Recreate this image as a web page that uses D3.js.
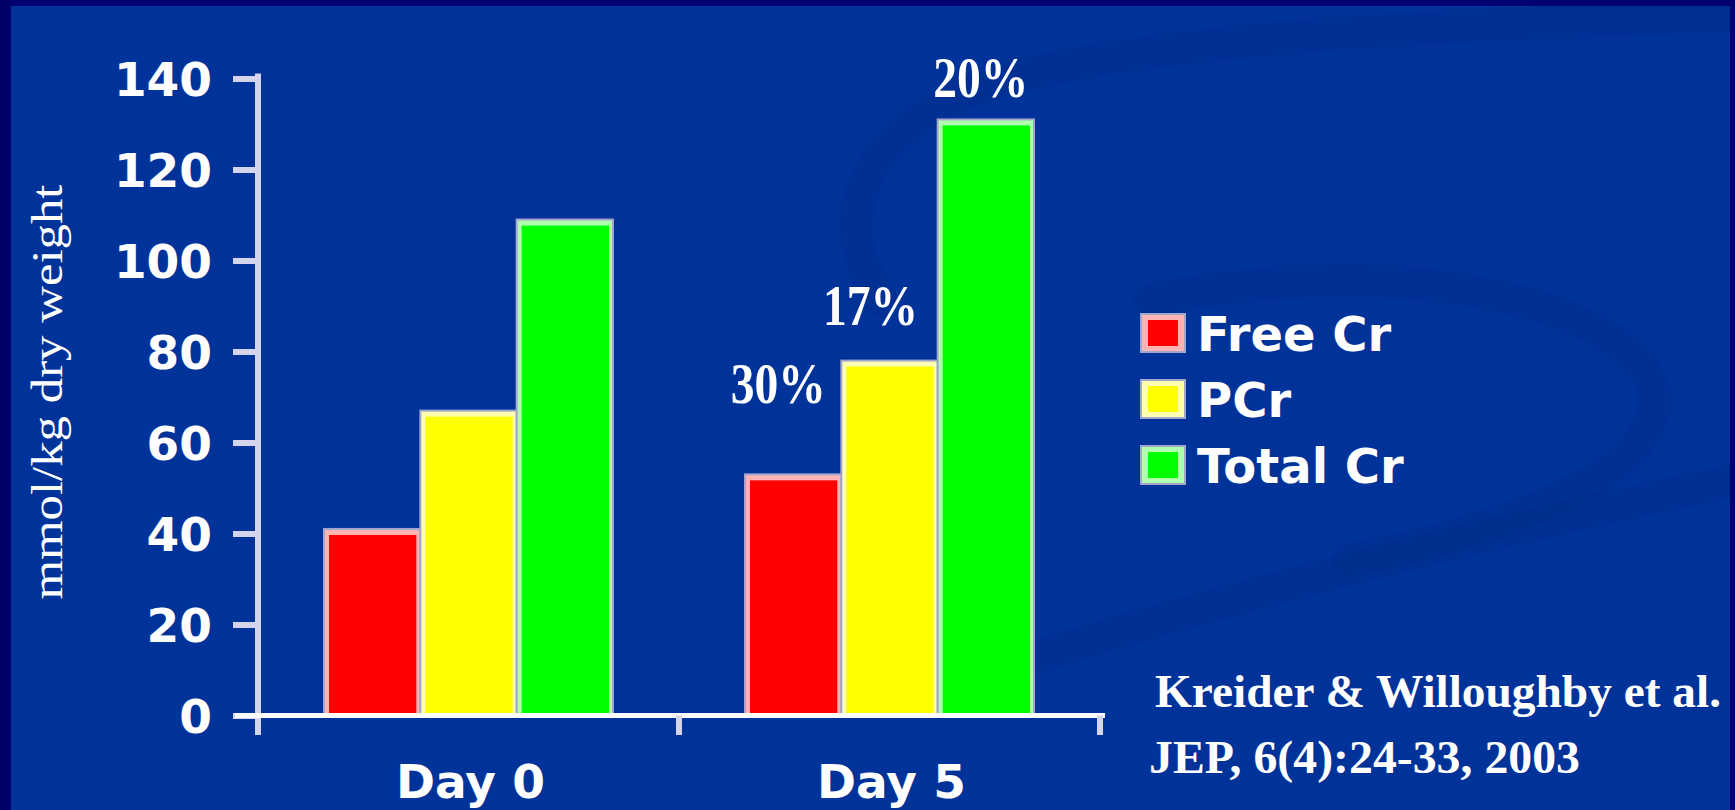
<!DOCTYPE html>
<html>
<head>
<meta charset="utf-8">
<title>Free Cr, PCr and Total Cr</title>
<script src="https://cdn.jsdelivr.net/npm/d3@7"></script>
<style>
    html, body { margin: 0; padding: 0; background: #00339a; overflow: hidden; }
    svg { display: block; }
</style>
</head>
<body>
<svg id="chart" width="1735" height="810"></svg>
<script>
// Chart data (mmol/kg dry weight)
const days = ['Day 0', 'Day 5'];
const series = ['Free Cr', 'PCr', 'Total Cr'];
const freeCr = [41, 53];
const pCr = [67, 78];
const totalCr = [109, 131];
const day5Changes = ['30%', '17%', '20%'];
const yTicks = [0, 20, 40, 60, 80, 100, 120, 140];
const yTitle = 'mmol/kg dry weight';
const citation = ['Kreider & Willoughby et al.', 'JEP, 6(4):24-33, 2003'];

const colors = ['#ff0000', '#ffff00', '#00ff00'];
const tints = ['#ffb4b4', '#ffffb0', '#b0ffb0'];

class BarChart {
    constructor(svgId) {
        this.svg = d3.select(svgId);
        this.width = 1735;
        this.height = 810;
        this.initVis();
    }

    initVis() {
        // Scales
        this.y = d3.scaleLinear().domain([0, 140]).range([715.5, 78.5]);
        this.x0 = d3.scaleBand().domain(days).range([258, 1100]).padding(0);
        this.x1 = d3.scaleBand().domain(series).range([66, 355]).padding(0);

        this.rows = days.map((day, i) => ({
            day: day,
            values: [freeCr[i], pCr[i], totalCr[i]].map((v, j) => ({ key: series[j], value: v, idx: j }))
        }));

        this.drawBackground();
        this.updateVis();
    }

    drawBackground() {
        const bg = this.svg.append('g').attr('class', 'background');
        bg.append('rect').attr('width', this.width).attr('height', this.height).attr('fill', '#00339a');

        // faint swoosh from the slide template
        const swoosh = [
            'M 880,300 C 820,200 880,120 1000,80 C 1200,30 1500,25 1735,15',
            'M 1150,300 C 1450,240 1720,330 1640,440 C 1600,500 1450,540 1350,560',
            'M 900,700 C 1200,600 1500,530 1735,480'
        ];
        bg.selectAll('path.swoosh')
            .data(swoosh)
            .join('path')
            .attr('class', 'swoosh')
            .attr('d', d => d)
            .attr('fill', 'none')
            .attr('stroke', '#002a86')
            .attr('stroke-opacity', 0.28)
            .attr('stroke-width', 34)
            .attr('stroke-linecap', 'round');

        // dark slide border
        bg.append('rect').attr('x', 0).attr('y', 0).attr('width', this.width).attr('height', 6).attr('fill', '#000070');
        bg.append('rect').attr('x', 0).attr('y', 0).attr('width', 11).attr('height', this.height).attr('fill', '#000068');
        bg.append('rect').attr('x', 1730).attr('y', 0).attr('width', 5).attr('height', this.height).attr('fill', '#000070');
    }

    updateVis() {
        const y = this.y, x0 = this.x0, x1 = this.x1;
        const axisColor = '#d4d4ec';

        // Y axis
        const yAxis = d3.axisLeft(y)
            .tickValues(yTicks)
            .tickSize(25)
            .tickSizeOuter(0)
            .tickPadding(21);

        const yg = this.svg.append('g')
            .attr('transform', 'translate(258,0)')
            .call(yAxis);
        yg.select('.domain').remove();
        yg.selectAll('.tick line').attr('stroke', axisColor).attr('stroke-width', 6);
        yg.selectAll('.tick text')
            .attr('fill', '#ffffff')
            .attr('dy', '0.36em')
            .style('font-family', '"DejaVu Sans", Verdana, sans-serif')
            .style('font-weight', 'bold')
            .style('font-size', '47px');

        this.svg.append('line')
            .attr('x1', 258).attr('x2', 258)
            .attr('y1', y(140) - 5).attr('y2', 735)
            .attr('stroke', axisColor).attr('stroke-width', 6);

        // Y title
        this.svg.append('text')
            .attr('transform', 'translate(62,392) rotate(-90)')
            .attr('text-anchor', 'middle')
            .attr('textLength', 415)
            .attr('lengthAdjust', 'spacingAndGlyphs')
            .attr('fill', '#ffffff')
            .style('font-family', '"Liberation Serif", "Times New Roman", serif')
            .style('font-size', '44px')
            .text(yTitle);

        // Bars
        const groups = this.svg.append('g').attr('class', 'bars')
            .selectAll('g')
            .data(this.rows)
            .join('g')
            .attr('transform', d => `translate(${x0(d.day)},0)`);

        groups.selectAll('rect.outer')
            .data(d => d.values)
            .join('rect')
            .attr('class', 'outer')
            .attr('x', d => x1(d.key))
            .attr('y', d => y(d.value))
            .attr('width', x1.bandwidth())
            .attr('height', d => y(0) - y(d.value))
            .attr('fill', d => tints[d.idx])
            .attr('stroke', '#a2a6cc')
            .attr('stroke-width', 2);

        groups.selectAll('rect.inner')
            .data(d => d.values)
            .join('rect')
            .attr('class', 'inner')
            .attr('x', d => x1(d.key) + 5)
            .attr('y', d => y(d.value) + 6)
            .attr('width', x1.bandwidth() - 9)
            .attr('height', d => y(0) - y(d.value) - 6)
            .attr('fill', d => colors[d.idx]);

        // X axis
        this.svg.append('line')
            .attr('x1', 235).attr('x2', 1105)
            .attr('y1', y(0)).attr('y2', y(0))
            .attr('stroke', '#ffffff').attr('stroke-width', 5);

        const boundaries = [x0.range()[0], x0(days[1]), x0.range()[1]];
        this.svg.selectAll('line.xtick')
            .data(boundaries.slice(1))
            .join('line')
            .attr('class', 'xtick')
            .attr('x1', d => d).attr('x2', d => d)
            .attr('y1', y(0)).attr('y2', 735)
            .attr('stroke', axisColor).attr('stroke-width', 6);

        this.svg.selectAll('text.day')
            .data(days)
            .join('text')
            .attr('class', 'day')
            .attr('x', d => x0(d) + x0.bandwidth() / 2 + 2)
            .attr('y', 798)
            .attr('text-anchor', 'middle')
            .attr('fill', '#ffffff')
            .style('font-family', '"DejaVu Sans", Verdana, sans-serif')
            .style('font-weight', 'bold')
            .style('font-size', '47px')
            .text(d => d);

        // Day 5 change labels, nudged off the bar tops like the original slide
        const nudges = [[-15, -71], [-19, -36], [-5, -22]];
        const day5 = this.rows[1].values;
        this.svg.selectAll('text.change')
            .data(day5)
            .join('text')
            .attr('class', 'change')
            .attr('x', d => x0(days[1]) + x1(d.key) + x1.bandwidth() / 2 + nudges[d.idx][0])
            .attr('y', d => y(d.value) + nudges[d.idx][1])
            .attr('text-anchor', 'middle')
            .attr('textLength', 95)
            .attr('lengthAdjust', 'spacingAndGlyphs')
            .attr('fill', '#ffffff')
            .style('font-family', '"Liberation Serif", "Times New Roman", serif')
            .style('font-weight', 'bold')
            .style('font-size', '56px')
            .text(d => day5Changes[d.idx]);

        // Legend
        const legend = this.svg.append('g')
            .attr('transform', 'translate(1141,314)')
            .selectAll('g')
            .data(series)
            .join('g')
            .attr('transform', (d, i) => `translate(0,${i * 66})`);

        legend.append('rect')
            .attr('width', 44).attr('height', 38)
            .attr('fill', (d, i) => tints[i])
            .attr('stroke', '#a2a6cc').attr('stroke-width', 2);
        legend.append('rect')
            .attr('x', 7).attr('y', 6)
            .attr('width', 30).attr('height', 26)
            .attr('fill', (d, i) => colors[i]);
        legend.append('text')
            .attr('x', 56).attr('y', 37)
            .attr('fill', '#ffffff')
            .style('font-family', '"DejaVu Sans", Verdana, sans-serif')
            .style('font-weight', 'bold')
            .style('font-size', '48px')
            .text(d => d);

        // Citation
        const citeLayout = [[1155, 707, 566], [1149, 773, 431]];
        this.svg.selectAll('text.cite')
            .data(citation)
            .join('text')
            .attr('class', 'cite')
            .attr('x', (d, i) => citeLayout[i][0])
            .attr('y', (d, i) => citeLayout[i][1])
            .attr('textLength', (d, i) => citeLayout[i][2])
            .attr('lengthAdjust', 'spacingAndGlyphs')
            .attr('fill', '#ffffff')
            .style('font-family', '"Liberation Serif", "Times New Roman", serif')
            .style('font-weight', 'bold')
            .style('font-size', '47px')
            .text(d => d);
    }
}

new BarChart('#chart');
</script>
</body>
</html>
